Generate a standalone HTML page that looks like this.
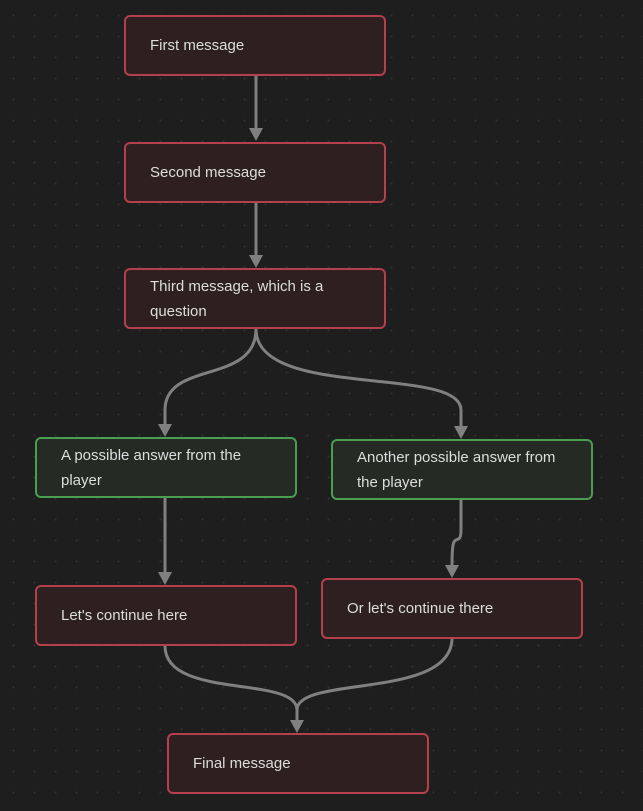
<!DOCTYPE html>
<html><head><meta charset="utf-8"><style>
html,body{margin:0;padding:0;}
body{width:643px;height:811px;overflow:hidden;background:#1e1e1e;
background-image:radial-gradient(circle,#333 0.8px,transparent 1.2px);background-size:21px 21px;background-position:3px 5px;
font-family:"Liberation Sans",sans-serif;position:relative;}
.n{position:absolute;box-sizing:border-box;width:262px;height:61px;border:2px solid #b3404a;background:#2e2020;border-radius:6px;color:#ddd;font-size:15px;line-height:25px;padding:0 24px;display:flex;align-items:center;}
.g{border-color:#4a9e50;background:#252a25;}
svg{position:absolute;left:0;top:0;}
</style></head><body>
<svg width="643" height="811">
<g fill="none" stroke="#808080" stroke-width="3">
<path d="M256 75 V128"/>
<path d="M256 202 V255"/>
<path d="M256 329 C256 385 165 360 165 410 V425"/>
<path d="M256 329 C256 400 461 365 461 410 V427"/>
<path d="M165 498 V572"/>
<path d="M461 500 V530 C461 545 455 535 453 545 C452 552 452 555 452 565"/>
<path d="M165 646 C165 700 297 675 297 710 V720"/>
<path d="M452 638 C452 700 297 675 297 710 V720"/>
</g>
<g fill="#808080">
<path d="M249 128 L263 128 L256 141 Z"/>
<path d="M249 255 L263 255 L256 268 Z"/>
<path d="M158 424 L172 424 L165 437 Z"/>
<path d="M454 426 L468 426 L461 439 Z"/>
<path d="M158 572 L172 572 L165 585 Z"/>
<path d="M445 565 L459 565 L452 578 Z"/>
<path d="M290 720 L304 720 L297 733 Z"/>
</g>
</svg>
<div class="n" style="left:124px;top:15px">First message</div>
<div class="n" style="left:124px;top:142px">Second message</div>
<div class="n" style="left:124px;top:268px">Third message, which is a question</div>
<div class="n g" style="left:35px;top:437px">A possible answer from the player</div>
<div class="n g" style="left:331px;top:439px">Another possible answer from the player</div>
<div class="n" style="left:35px;top:585px">Let's continue here</div>
<div class="n" style="left:321px;top:578px">Or let's continue there</div>
<div class="n" style="left:167px;top:733px">Final message</div>
</body></html>
